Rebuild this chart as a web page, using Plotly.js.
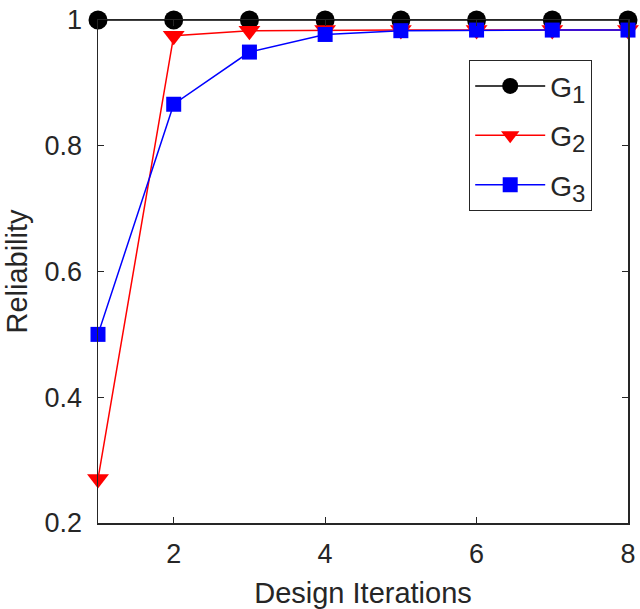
<!DOCTYPE html>
<html><head><meta charset="utf-8">
<script src="https://cdn.plot.ly/plotly-3.0.1.min.js"></script>
<style>html,body{margin:0;padding:0;background:#fff}#plot{width:640px;height:609px}</style>
</head><body><div id="plot"></div>
<script>
const iterations = [1, 2, 3, 4, 5, 6, 7, 8];
const g1 = [1, 1, 1, 1, 1, 1, 1, 1];
const g2 = [0.27, 0.975, 0.983, 0.984, 0.984, 0.984, 0.984, 0.984];
const g3 = [0.5, 0.866, 0.949, 0.977, 0.983, 0.984, 0.984, 0.984];
const seriesNames = ['G<sub><span style="font-size:24px">1</span></sub>',
                     'G<sub><span style="font-size:24px">2</span></sub>',
                     'G<sub><span style="font-size:24px">3</span></sub>'];
const xTicks = [2, 4, 6, 8];
const yTicks = [0.2, 0.4, 0.6, 0.8, 1];
const yTickText = ['0.2', '0.4', '0.6', '0.8', '1'];

const fam = 'Liberation Sans, Arial, sans-serif';
const tickFont = {family: fam, size: 27, color: '#262626'};
const titleFont = {family: fam, size: 29, color: '#262626'};
const legendFont = {family: fam, size: 28, color: '#262626'};
const traces = [
  {x: iterations, y: g1, name: seriesNames[0], legendgroup: 'a', mode: 'lines+markers', cliponaxis: false,
   line: {color: '#000000', width: 1.5}, marker: {symbol: 'circle', size: 19, color: '#000000'}},
  {x: iterations, y: g2, name: seriesNames[1], legendgroup: 'b', mode: 'lines+markers', cliponaxis: false,
   line: {color: '#ff0000', width: 1.5}, marker: {symbol: 'triangle-down', size: 19, color: '#ff0000'}},
  {x: iterations, y: g3, name: seriesNames[2], legendgroup: 'c', mode: 'lines+markers', cliponaxis: false,
   line: {color: '#0000ff', width: 1.5}, marker: {symbol: 'square', size: 15, color: '#0000ff'}}
];
const axisCommon = {showgrid: false, zeroline: false, showline: true, linecolor: '#262626', linewidth: 1.5,
  mirror: 'ticks', ticks: 'inside', ticklen: 6, tickwidth: 1.2, tickcolor: '#262626', tickfont: tickFont};
const layout = {
  width: 640, height: 609,
  margin: {l: 98, r: 12, t: 20, b: 86},
  paper_bgcolor: '#ffffff', plot_bgcolor: '#ffffff',
  font: tickFont,
  showlegend: true,
  xaxis: Object.assign({}, axisCommon, {range: [1, 8], tickvals: xTicks, ticklabelstandoff: 6,
    title: {text: 'Design Iterations', font: titleFont, standoff: 28}}),
  yaxis: Object.assign({}, axisCommon, {range: [0.2, 1], tickvals: yTicks, ticktext: yTickText, ticklabelstandoff: 9,
    title: {text: 'Reliability', font: titleFont, standoff: 8}}),
  legend: {x: 0.70, y: 0.9205, xanchor: 'left', yanchor: 'top', bgcolor: '#ffffff',
    bordercolor: '#262626', borderwidth: 1.2, font: legendFont, itemwidth: 70, tracegroupgap: 10,
    traceorder: 'grouped', entrywidth: 130, entrywidthmode: 'pixels'}
};
Plotly.newPlot('plot', traces, layout, {displayModeBar: false, staticPlot: true});
</script></body></html>
